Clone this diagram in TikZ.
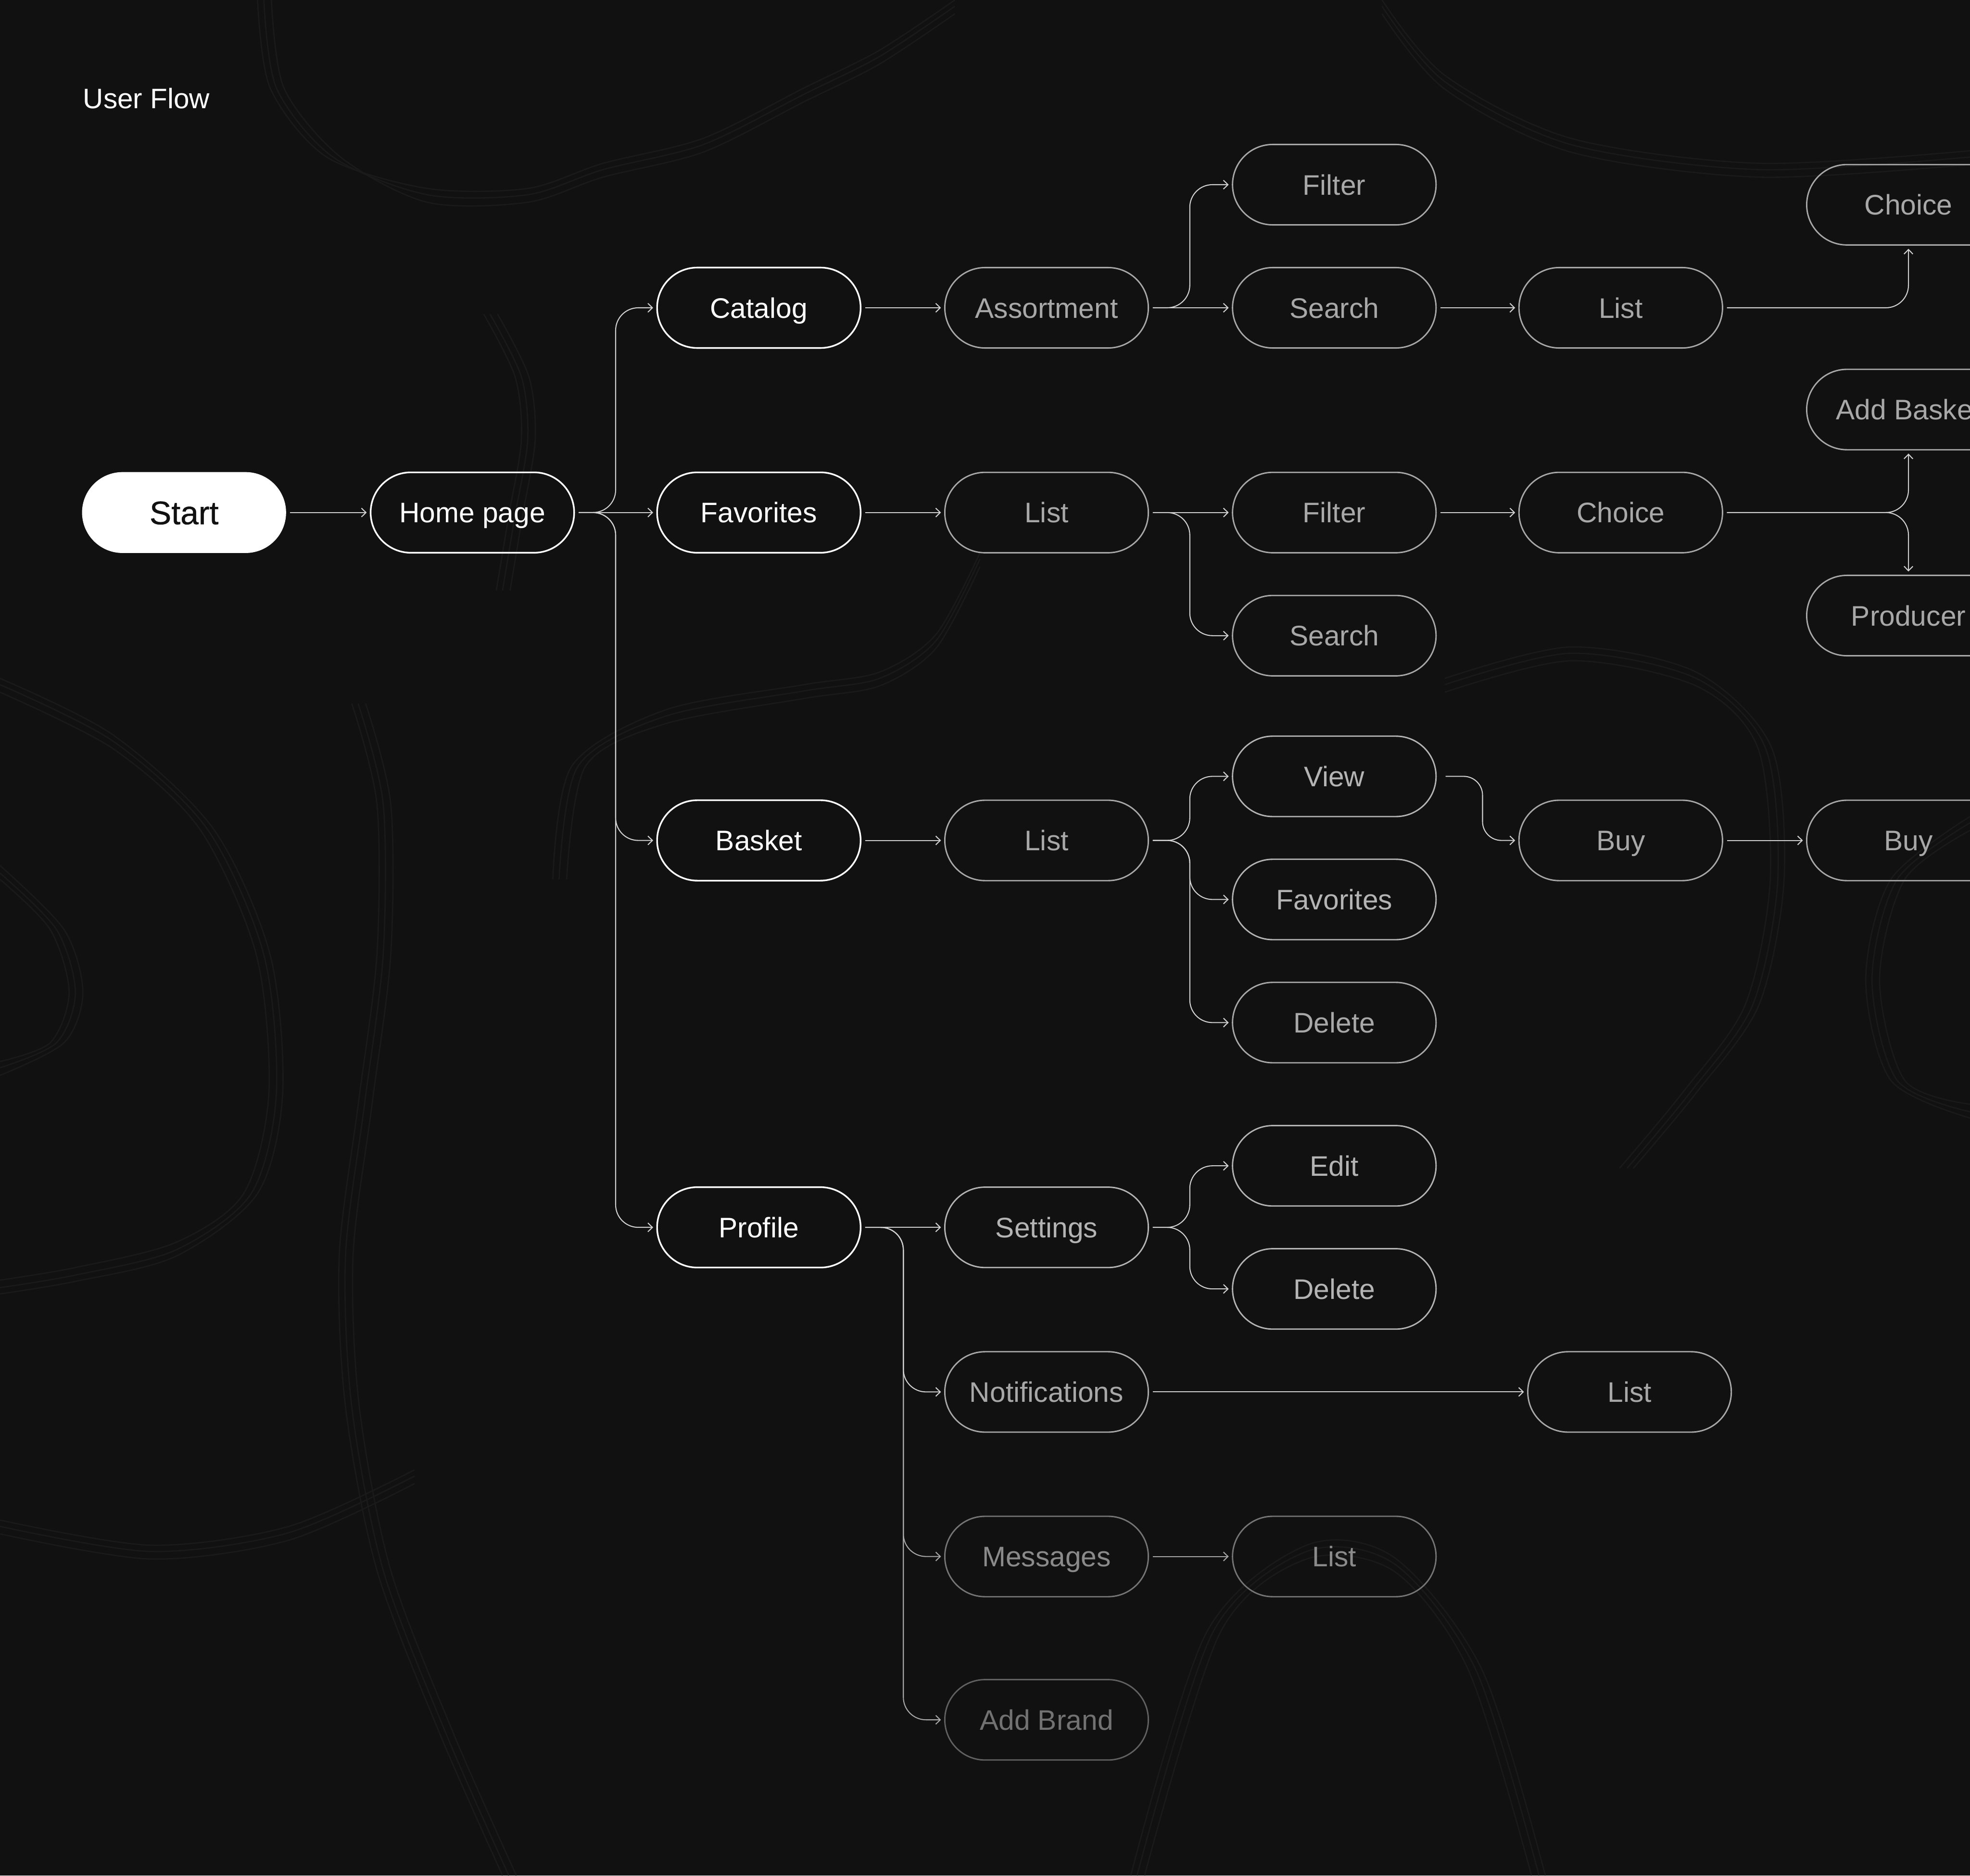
\documentclass[tikz,border=0pt]{standalone}
\usepackage{fontspec}
\setmainfont{Liberation Sans}
\newfontfamily\startfont{Liberation Sans}[FakeBold=0.6]
\usetikzlibrary{arrows.meta,calc}
\definecolor{bg}{HTML}{111111}
\definecolor{contourc}{HTML}{1A1A1A}
\definecolor{linec}{HTML}{D2D2D2}
\definecolor{lined}{HTML}{A8A8A8}
\definecolor{grayA}{HTML}{A8A8A8}
\definecolor{grayB}{HTML}{B4B4B4}
\definecolor{grayC}{HTML}{8A8A8A}
\definecolor{grayD}{HTML}{727272}
\tikzset{
  base/.style={rectangle, rounded corners=32pt, minimum width=162pt, minimum height=64pt,
    inner sep=0pt, text height=16.1pt, text depth=0pt, font=\fontsize{22.5}{26}\selectfont},
  startbox/.style={base, fill=white, draw=white, text=bg, font=\startfont\fontsize{26}{30}\selectfont, text height=18.6pt},
  mainbox/.style={base, draw=white, line width=1.3pt, text=white},
  subbox/.style={base, draw=grayA, line width=1.1pt, text=grayA},
  litebox/.style={base, draw=grayB, line width=1.1pt, text=grayB},
  dimbox/.style={base, draw=grayC!85!black, line width=1.1pt, text=grayC},
  faintbox/.style={base, draw=grayD!85!black, line width=1.1pt, text=grayD},
  arr/.style={draw=linec, line width=0.8pt, rounded corners=18pt,
    -{Straight Barb[length=3.6pt,width=7pt,line width=0.8pt]}, shorten <=3pt, shorten >=2.5pt},
  contour/.style={draw=contourc, line width=1pt},
}
\begin{document}
\begin{tikzpicture}[x=1pt,y=-1pt]
\useasboundingbox (0,0) rectangle (1568,1493);
\fill[bg] (0,0) rectangle (1568,1493);
\clip (0,0) rectangle (1568,1493);

% faint topographic contours
\foreach \d in {0,5,11}{
  \draw[contour] plot[smooth] coordinates {(205+\d,0) (215+\d,70) (260+\d,125) (340,150+\d) (420,150+\d) (480,130+\d) (560,110+\d) (640,70+\d) (700,40+\d) (760,0+\d)};
  \draw[contour] plot[smooth] coordinates {(0,540+\d) (90,585+\d) (170-\d,660) (215-\d,760) (225-\d,870) (205-\d,950) (140,1000-\d) (60,1020-\d) (0,1030-\d)};
  \draw[contour] plot[smooth] coordinates {(280+\d,560) (300+\d,640) (300+\d,760) (285+\d,880) (270+\d,1000) (275+\d,1120) (300+\d,1250) (350+\d,1380) (400+\d,1493)};
  \draw[contour] plot[smooth] coordinates {(440+\d,700) (455+\d,610) (530,565+\d) (640,545+\d) (700,535+\d) (745,505+\d) (780,440+\d)};
  \draw[contour] plot[smooth] coordinates {(1150,540+\d) (1250,515+\d) (1350,535+\d) (1410-\d,595) (1420-\d,700) (1400-\d,800) (1350-\d,870) (1300-\d,930)};
  \draw[contour] plot[smooth] coordinates {(1568,650+\d) (1505+\d,700) (1485+\d,780) (1505+\d,860) (1568,890-\d)};
  \draw[contour] plot[smooth] coordinates {(900+\d,1493) (960+\d,1300) (1040,1230+\d) (1110,1240+\d) (1180-\d,1330) (1230-\d,1493)};
  \draw[contour] plot[smooth] coordinates {(1100,0+\d) (1150,60+\d) (1250,110+\d) (1400,130+\d) (1568,120+\d)};
  \draw[contour] plot[smooth] coordinates {(0,1210+\d) (120,1230+\d) (230,1215+\d) (330,1170+\d)};
  \draw[contour] plot[smooth] coordinates {(385+\d,250) (410+\d,300) (415+\d,350) (405+\d,410) (395+\d,470)};
  \draw[contour] plot[smooth] coordinates {(0,700-\d) (40+\d,740) (55+\d,790) (40+\d,830) (0,845+\d)};
}

% title
\node[anchor=base west, text=white, font=\fontsize{22.4}{26}\selectfont, inner sep=0pt] (title) at (66,86.4) {User Flow};

% nodes
\node[startbox] (start) at (146.5,408) {Start};
\node[mainbox] (home) at (376,408) {Home page};
\node[mainbox] (catalog) at (604,245) {Catalog};
\node[mainbox] (favorites) at (604,408) {Favorites};
\node[mainbox] (basket) at (604,669) {Basket};
\node[mainbox] (profile) at (604,977) {Profile};

\node[subbox] (assort) at (833,245) {Assortment};
\node[subbox] (filterA) at (1062,147) {Filter};
\node[subbox] (searchA) at (1062,245) {Search};
\node[subbox] (listA) at (1290,245) {List};
\node[subbox] (choiceA) at (1519,163) {Choice};

\node[subbox] (listB) at (833,408) {List};
\node[subbox] (filterB) at (1062,408) {Filter};
\node[subbox] (searchB) at (1062,506) {Search};
\node[subbox] (choiceB) at (1290,408) {Choice};
\node[subbox] (addbasket) at (1519,326) {Add Basket};
\node[subbox] (producer) at (1519,490) {Producer};

\node[subbox] (listC) at (833,669) {List};
\node[litebox] (view) at (1062,618) {View};
\node[litebox] (favC) at (1062,716) {Favorites};
\node[subbox] (delC) at (1062,814) {Delete};
\node[subbox] (buyA) at (1290,669) {Buy};
\node[subbox] (buyB) at (1519,669) {Buy};

\node[litebox] (settings) at (833,977) {Settings};
\node[litebox] (edit) at (1062,928) {Edit};
\node[litebox] (delD) at (1062,1026) {Delete};
\node[subbox] (notif) at (833,1108) {Notifications};
\node[subbox] (listN) at (1297,1108) {List};
\node[dimbox] (msg) at (833,1239) {Messages};
\node[dimbox] (listM) at (1062,1239) {List};
\node[faintbox] (addbrand) at (833,1369) {Add Brand};

% trunk coordinates
\coordinate (tHome) at (490,408);
\coordinate (tAssort) at (947,245);
\coordinate (tListB) at (947,408);
\coordinate (tListC) at (947,669);
\coordinate (tSet) at (947,977);
\coordinate (tProf) at (719,977);
\coordinate (tView) at (1180,618);
\coordinate (tChoiceA) at (1519,245);
\coordinate (tChoiceB) at (1519,408);

% connectors
\draw[arr] (start) -- (home);
\draw[arr] (home.east) -- (tHome) |- (catalog.west);
\draw[arr] (home) -- (favorites);
\draw[arr] (home.east) -- (tHome) |- (basket.west);
\draw[arr] (home.east) -- (tHome) |- (profile.west);

\draw[arr] (catalog) -- (assort);
\draw[arr] (assort.east) -- (tAssort) |- (filterA.west);
\draw[arr] (assort) -- (searchA);
\draw[arr] (searchA) -- (listA);
\draw[arr] (listA.east) -- (tChoiceA) -- (choiceA.south);

\draw[arr] (favorites) -- (listB);
\draw[arr] (listB) -- (filterB);
\draw[arr] (listB.east) -- (tListB) |- (searchB.west);
\draw[arr] (filterB) -- (choiceB);
\draw[arr] (choiceB.east) -- (tChoiceB) -- (addbasket.south);
\draw[arr] (choiceB.east) -- (tChoiceB) -- (producer.north);

\draw[arr] (basket) -- (listC);
\draw[arr] (listC.east) -- (tListC) |- (view.west);
\draw[arr] (listC.east) -- (tListC) |- (favC.west);
\draw[arr] (listC.east) -- (tListC) |- (delC.west);
\draw[arr, shorten <=7pt, rounded corners=15pt] (view.east) -- (tView) |- (buyA.west);
\draw[arr] (buyA) -- (buyB);

\draw[arr] (profile) -- (settings);
\draw[arr] (settings.east) -- (tSet) |- (edit.west);
\draw[arr] (settings.east) -- (tSet) |- (delD.west);
\draw[arr, draw=lined] (profile.east) -- (tProf) |- (addbrand.west);
\draw[arr, draw=lined] (profile.east) -- (tProf) |- (msg.west);
\draw[arr] (profile.east) -- (tProf) |- (notif.west);
\draw[arr] (notif) -- (listN);
\draw[arr, draw=lined] (msg) -- (listM);
\end{tikzpicture}
\end{document}
